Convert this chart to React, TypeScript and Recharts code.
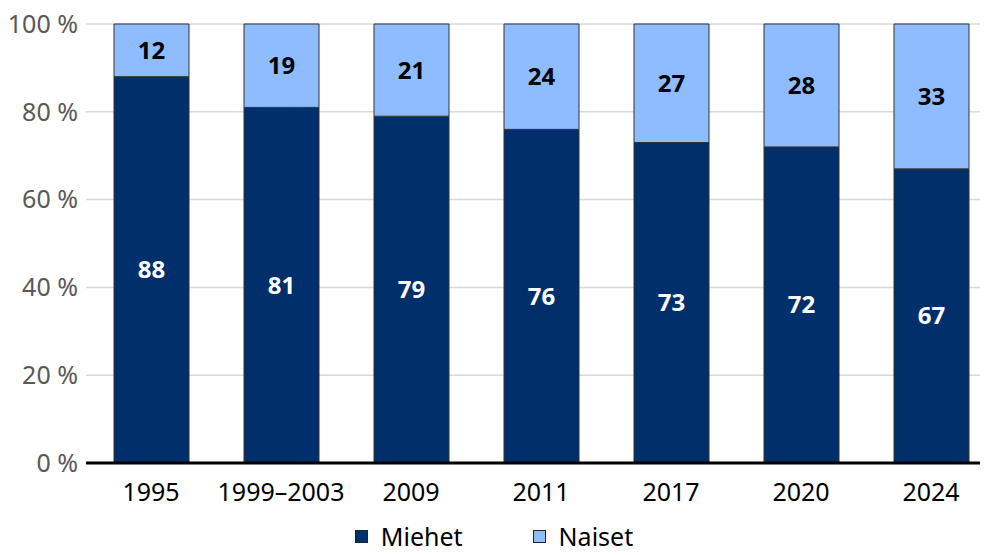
import React from 'react';
import { BarChart, Bar, XAxis, YAxis, CartesianGrid, Legend, LabelList } from 'recharts';

const categories = ['1995', '1999–2003', '2009', '2011', '2017', '2020', '2024'];
const miehet = [88, 81, 79, 76, 73, 72, 67];
const naiset = [12, 19, 21, 24, 27, 28, 33];
const yTicks = [0, 20, 40, 60, 80, 100];

const data = categories.map((c, i) => ({ name: c, Miehet: miehet[i], Naiset: naiset[i] }));

const FONT = '"Noto Sans", sans-serif';
const DARK = '#002F6C';
const LIGHT = '#8FBCFF';

const LegendContent = () => (
  <div style={{ display: 'flex', justifyContent: 'center', alignItems: 'center', height: 34, fontFamily: FONT, fontSize: 25, lineHeight: '25px', color: '#000', paddingBottom: 4, boxSizing: 'border-box' }}>
    <div style={{ display: 'flex', alignItems: 'center' }}>
      <span style={{ display: 'inline-block', width: 11, height: 11, background: DARK, border: '1px solid #222', marginRight: 13 }} />
      <span>Miehet</span>
    </div>
    <div style={{ display: 'flex', alignItems: 'center', marginLeft: 70 }}>
      <span style={{ display: 'inline-block', width: 11, height: 11, background: LIGHT, border: '1px solid #222', marginRight: 13 }} />
      <span>Naiset</span>
    </div>
  </div>
);

export default function App() {
  return (
    <div style={{ margin: '-8px 0 0 -8px', width: 988, height: 555, overflow: 'hidden', position: 'relative', background: '#fff' }}>
      <BarChart width={996} height={555} data={data} margin={{ top: 24, right: 0, bottom: 0, left: 0 }} barSize={75} style={{ fontFamily: FONT }}>
        <CartesianGrid vertical={false} stroke="#d9d9d9" strokeWidth={1.5} />
        <XAxis
          dataKey="name"
          height={58}
          tickLine={false}
          tickSize={0}
          tickMargin={20}
          axisLine={{ stroke: '#000', strokeWidth: 3 }}
          tick={{ fill: '#000', fontSize: 25, fontFamily: FONT }}
          interval={0}
        />
        <YAxis
          width={86}
          domain={[0, 100]}
          ticks={yTicks}
          tickFormatter={(v: number) => `${v} %`}
          axisLine={false}
          tickLine={false}
          tickSize={0}
          tickMargin={8}
          tick={{ fill: '#595959', fontSize: 25, fontFamily: FONT }}
        />
        <Legend verticalAlign="bottom" content={LegendContent} wrapperStyle={{ left: 0, width: 988 }} />
        <Bar dataKey="Miehet" stackId="a" fill={DARK} stroke="#333" strokeWidth={1} isAnimationActive={false}>
          <LabelList dataKey="Miehet" position="center" fill="#fff" fontSize={24} fontWeight="bold" fontFamily={FONT} />
        </Bar>
        <Bar dataKey="Naiset" stackId="a" fill={LIGHT} stroke="#333" strokeWidth={1} isAnimationActive={false}>
          <LabelList dataKey="Naiset" position="center" fill="#000" fontSize={24} fontWeight="bold" fontFamily={FONT} />
        </Bar>
      </BarChart>
    </div>
  );
}
